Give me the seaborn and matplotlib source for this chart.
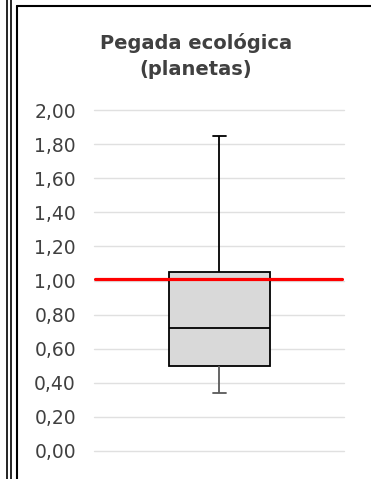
import numpy as np
import pandas as pd
import matplotlib
matplotlib.use("Agg")
import matplotlib.pyplot as plt
import seaborn as sns
from matplotlib.lines import Line2D

# five-number summary (min, q1, median, q3, max)
summary_values = [0.34, 0.50, 0.72, 1.05, 1.85]
reference_level = 1.01
y_ticks = [0.0, 0.2, 0.4, 0.6, 0.8, 1.0, 1.2, 1.4, 1.6, 1.8, 2.0]
title = "Pegada ecológica\n(planetas)"

data = pd.DataFrame({"valor": summary_values})

sns.set_style("white")
plt.rcParams["font.family"] = ["DejaVu Sans"]

fig = plt.figure(figsize=(3.71, 4.79), dpi=100)
ax = fig.add_axes([94 / 371, 28 / 479, 250 / 371, 341 / 479])

sns.boxplot(data=data, y="valor", ax=ax, whis=(0, 100), width=0.404,
            color="#d9d9d9", linecolor="black", linewidth=1.3,
            showfliers=False, capwidths=0.052, saturation=1)

# lower whisker looks grey in the original
for ln in ax.lines:
    yd = np.asarray(ln.get_ydata(), dtype=float)
    if yd.size and yd.max() <= 0.5 + 1e-9 and yd.min() < 0.5:
        ln.set_color("#595959")

ax.axhline(reference_level, xmin=0.004, xmax=0.99, color="#ff0000",
           linewidth=2.3, zorder=5)

ax.set_xlim(-0.5, 0.5)
ax.set_ylim(0, 2)
ax.set_yticks(y_ticks)
ax.set_yticklabels([f"{t:.2f}".replace(".", ",") for t in y_ticks])
ax.set_xticks([])
ax.set_xlabel("")
ax.set_ylabel("")
ax.yaxis.grid(True, color="#e0e0e0", linewidth=1.0)
ax.set_axisbelow(True)
for gl in ax.get_ygridlines():
    gl.set_clip_on(False)
for s in ax.spines.values():
    s.set_visible(False)
ax.tick_params(axis="y", length=0, pad=13, labelsize=13.5, labelcolor="#404040")

fig.text(196 / 371, 1 - 56 / 479, title, ha="center", va="center",
         fontsize=14, fontweight="bold", color="#404040", linespacing=1.45)

# frame lines of the surrounding sheet
fig.add_artist(Line2D([7.5 / 371, 7.5 / 371], [0, 1], color="black", linewidth=1.2))
fig.add_artist(Line2D([10.5 / 371, 10.5 / 371], [0, 1], color="black", linewidth=1.2))
fig.add_artist(Line2D([16.8 / 371, 16.8 / 371], [0, 1 - 5.5 / 479], color="black", linewidth=1.5))
fig.add_artist(Line2D([16.8 / 371, 1], [1 - 5.5 / 479, 1 - 5.5 / 479], color="black", linewidth=1.5))

fig.savefig("out.png", dpi=100)
